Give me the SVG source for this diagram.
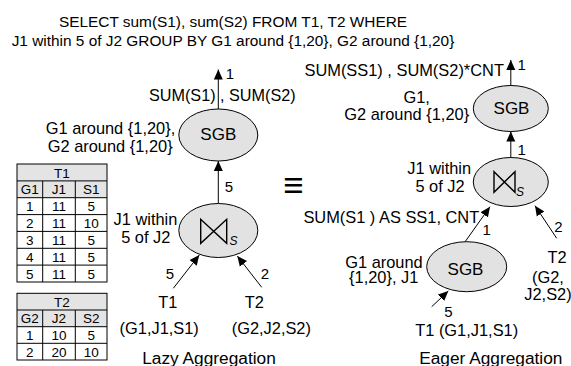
<svg xmlns="http://www.w3.org/2000/svg" width="571" height="366" viewBox="0 0 571 366">
<style>
text{font-family:"Liberation Sans",Arial,Helvetica,sans-serif;fill:#000}
.t{font-size:15.4px;text-anchor:middle}
.b{font-size:16.4px}
.m{text-anchor:middle}
.n{font-size:15px}
.g{font-size:17px;text-anchor:middle}
.agg{font-size:17.3px;text-anchor:middle}
.tb{font-size:13.5px;text-anchor:middle}
.sub{font-size:12px;font-style:italic}
.eq{font-size:35px;text-anchor:middle}
.node{fill:#e2e2e2;stroke:#000;stroke-width:1}
.bow{fill:none;stroke:#000;stroke-width:1.4;stroke-linejoin:miter}
.edge{stroke:#000;stroke-width:1;fill:none;marker-end:url(#ah)}
.grid{stroke:#000;stroke-width:1;fill:none}
.hdr{fill:#e4e4e4;stroke:none}
</style>
<defs>
<marker id="ah" markerUnits="userSpaceOnUse" markerWidth="10" markerHeight="10" refX="10" refY="5" orient="auto">
<path d="M0,0.5 L10,5 L0,9.5 Z" fill="#000"/>
</marker>
</defs>

<g id="title">
<text class="t" x="233" y="27.3">SELECT sum(S1), sum(S2) FROM T1, T2 WHERE</text>
<text class="t" x="233" y="45.7">J1 within 5 of J2 GROUP BY G1 around {1,20}, G2 around {1,20}</text>
</g>

<g id="table-T1">
<rect class="hdr" x="17" y="164" width="90" height="33.7"/>
<rect class="grid" x="17" y="164" width="90" height="118"/>
<path class="grid" d="M17,180.9H107M17,197.7H107M17,214.6H107M17,231.4H107M17,248.3H107M17,265.1H107M42.7,180.9V282M75.3,180.9V282"/>
<text class="tb" x="62" y="177.5">T1</text>
<text class="tb" x="29.8" y="194.3">G1</text><text class="tb" x="59" y="194.3">J1</text><text class="tb" x="91.2" y="194.3">S1</text>
<text class="tb" x="29.8" y="211.2">1</text><text class="tb" x="59" y="211.2">11</text><text class="tb" x="91.2" y="211.2">5</text>
<text class="tb" x="29.8" y="228">2</text><text class="tb" x="59" y="228">11</text><text class="tb" x="91.2" y="228">10</text>
<text class="tb" x="29.8" y="244.9">3</text><text class="tb" x="59" y="244.9">11</text><text class="tb" x="91.2" y="244.9">5</text>
<text class="tb" x="29.8" y="261.7">4</text><text class="tb" x="59" y="261.7">11</text><text class="tb" x="91.2" y="261.7">5</text>
<text class="tb" x="29.8" y="278.6">5</text><text class="tb" x="59" y="278.6">11</text><text class="tb" x="91.2" y="278.6">5</text>
</g>

<g id="table-T2">
<rect class="hdr" x="17" y="293.3" width="90" height="33.4"/>
<rect class="grid" x="17" y="293.3" width="90" height="66.7"/>
<path class="grid" d="M17,310H107M17,326.7H107M17,343.3H107M42.7,310V360M75.3,310V360"/>
<text class="tb" x="62" y="306.6">T2</text>
<text class="tb" x="29.8" y="323.3">G2</text><text class="tb" x="59" y="323.3">J2</text><text class="tb" x="91.2" y="323.3">S2</text>
<text class="tb" x="29.8" y="340">1</text><text class="tb" x="59" y="340">10</text><text class="tb" x="91.2" y="340">5</text>
<text class="tb" x="29.8" y="356.6">2</text><text class="tb" x="59" y="356.6">20</text><text class="tb" x="91.2" y="356.6">10</text>
</g>

<g id="connectors">
<line class="edge" x1="218.3" y1="109" x2="218.3" y2="69.5"/>
<line class="edge" x1="218.3" y1="203.5" x2="218.3" y2="161"/>
<line class="edge" x1="173.3" y1="288.3" x2="199.3" y2="255"/>
<line class="edge" x1="261.7" y1="287.3" x2="237.3" y2="256"/>
<line class="edge" x1="510.8" y1="85.7" x2="510.8" y2="60"/>
<line class="edge" x1="510.8" y1="157.5" x2="510.8" y2="131.5"/>
<line class="edge" x1="465" y1="241.9" x2="490" y2="206.7"/>
<line class="edge" x1="431.7" y1="306.7" x2="448.3" y2="291"/>
<line class="edge" x1="556.7" y1="238.3" x2="535" y2="205.7"/>
<text class="n m" x="230" y="78.7">1</text>
<text class="n m" x="229" y="191.9">5</text>
<text class="n m" x="170" y="279.4">5</text>
<text class="n m" x="265" y="279.4">2</text>
<text class="n m" x="521.7" y="69.7">1</text>
<text class="n m" x="521.7" y="155.4">1</text>
<text class="n m" x="486.7" y="235.4">1</text>
<text class="n m" x="448.3" y="317">5</text>
<text class="n m" x="558.3" y="232">2</text>
</g>

<g id="left-sgb">
<ellipse class="node" cx="218.3" cy="135" rx="39.5" ry="26"/>
<text class="g" x="218.3" y="140.3">SGB</text>
<text class="b" x="149" y="100.8" style="font-size:16.2px">SUM(S1)<tspan dx="4.5">, SUM(S2)</tspan></text>
<text class="b m" x="110.5" y="134.2">G1 around {1,20},</text>
<text class="b m" x="110.2" y="151.9">G2 around {1,20}</text>
</g>

<g id="left-join">
<ellipse class="node" cx="218.3" cy="230.5" rx="39.5" ry="27"/>
<path class="bow" d="M200.7,219.3 L200.7,243.3 L226.7,219.3 L226.7,243.3 Z"/>
<text class="sub" x="229.5" y="245.2">S</text>
<text class="b m" x="145.5" y="225.2">J1 within</text>
<text class="b m" x="145.8" y="243.2">5 of J2</text>
</g>

<g id="left-T1">
<text class="b m" x="167.7" y="307.6">T1</text>
<text class="b m" x="159.2" y="334">(G1,J1,S1)</text>
</g>

<g id="left-T2">
<text class="b m" x="254.3" y="307.6">T2</text>
<text class="b" x="231.7" y="334">(G2,J2,S2)</text>
</g>

<text class="agg" x="209" y="364">Lazy Aggregation</text>

<text class="eq" x="293.3" y="197.4">≡</text>

<g id="right-sgb">
<ellipse class="node" cx="510.8" cy="108.5" rx="37.5" ry="23"/>
<text class="g" x="511.5" y="113.8">SGB</text>
<text class="b m" x="404.2" y="75.5">SUM(SS1) , SUM(S2)*CNT</text>
<text class="b m" x="416.7" y="102.6">G1,</text>
<text class="b m" x="406.7" y="120.2">G2 around {1,20}</text>
</g>

<g id="right-join">
<ellipse class="node" cx="510.8" cy="182" rx="37.5" ry="24.5"/>
<path class="bow" d="M494,171.7 L494,192.3 L515,171.7 L515,192.3 Z"/>
<text class="sub" x="516" y="196">S</text>
<text class="b m" x="439.2" y="173.6">J1 within</text>
<text class="b m" x="440" y="191.6">5 of J2</text>
</g>

<g id="right-lower-sgb">
<ellipse class="node" cx="466.7" cy="266.7" rx="40" ry="25"/>
<text class="g" x="465.5" y="274.7">SGB</text>
<text class="b m" x="391.3" y="222.5">SUM(S1 ) AS SS1, CNT</text>
<text class="b m" x="384" y="267.6">G1 around</text>
<text class="b m" x="383.7" y="282.6">{1,20}, J1</text>
</g>

<g id="right-T1">
<text class="b m" x="466.7" y="335.6">T1 (G1,J1,S1)</text>
</g>

<g id="right-T2">
<text class="b m" x="557" y="262.6">T2</text>
<text class="b m" x="548" y="282.6">(G2,</text>
<text class="b m" x="548" y="300.2">J2,S2)</text>
</g>

<text class="agg" x="490.8" y="364">Eager Aggregation</text>
</svg>
